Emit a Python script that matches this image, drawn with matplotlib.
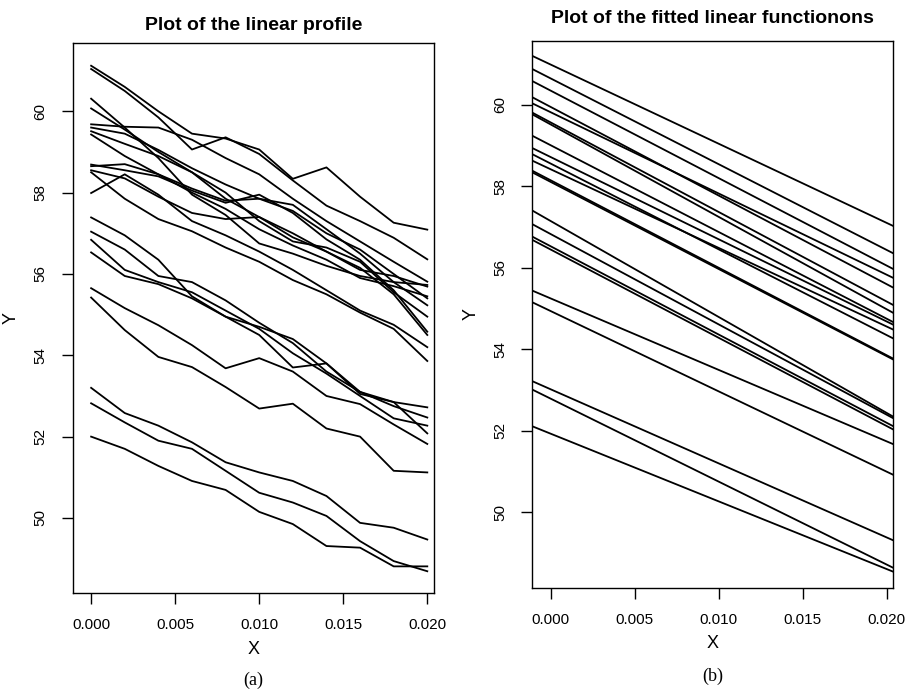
import numpy as np
import matplotlib
matplotlib.use("Agg")
import matplotlib.pyplot as plt

# X grid of the profiles
x_grid = [0.000, 0.002, 0.004, 0.006, 0.008, 0.010, 0.012, 0.014, 0.016, 0.018, 0.020]

profiles = [
    [61.12, 60.60, 60.00, 59.45, 59.33, 59.06, 58.34, 58.62, 57.90, 57.26, 57.09],
    [61.04, 60.50, 59.85, 59.06, 59.36, 58.95, 58.30, 57.68, 57.30, 56.89, 56.36],
    [60.31, 59.60, 58.85, 57.95, 57.45, 56.75, 56.50, 56.20, 55.95, 55.80, 55.73],
    [60.07, 59.55, 59.00, 58.50, 57.85, 57.40, 57.00, 56.55, 56.10, 55.95, 55.69],
    [59.68, 59.62, 59.60, 59.30, 58.85, 58.45, 57.85, 57.30, 56.80, 56.30, 55.81],
    [59.60, 59.45, 59.05, 58.60, 58.20, 57.85, 57.55, 57.00, 56.60, 56.00, 55.40],
    [59.51, 59.20, 58.90, 58.50, 58.00, 57.30, 56.80, 56.65, 56.30, 55.55, 54.95],
    [59.43, 58.90, 58.45, 58.10, 57.80, 57.85, 57.70, 57.10, 56.50, 55.80, 55.23],
    [58.69, 58.55, 58.40, 58.05, 57.75, 57.95, 57.50, 56.85, 56.35, 55.60, 54.58],
    [58.65, 58.70, 58.45, 58.00, 57.60, 57.10, 56.70, 56.35, 55.90, 55.70, 55.45],
    [58.55, 58.35, 57.90, 57.50, 57.35, 57.40, 56.90, 56.55, 56.15, 55.50, 54.50],
    [58.50, 57.85, 57.35, 57.05, 56.65, 56.30, 55.85, 55.50, 55.05, 54.65, 53.86],
    [57.99, 58.45, 57.95, 57.30, 56.95, 56.55, 56.10, 55.60, 55.10, 54.75, 54.20],
    [57.39, 56.95, 56.35, 55.45, 54.95, 54.70, 54.40, 53.80, 53.10, 52.85, 52.72],
    [57.04, 56.60, 55.95, 55.80, 55.35, 54.80, 54.30, 53.60, 53.10, 52.75, 52.47],
    [56.84, 56.10, 55.80, 55.55, 55.10, 54.65, 54.05, 53.55, 53.00, 52.45, 52.27],
    [56.53, 55.95, 55.75, 55.40, 54.95, 54.50, 53.70, 53.80, 53.05, 52.85, 52.08],
    [55.65, 55.16, 54.74, 54.25, 53.68, 53.93, 53.60, 53.00, 52.80, 52.30, 51.82],
    [55.42, 54.62, 53.96, 53.71, 53.22, 52.69, 52.81, 52.20, 52.00, 51.16, 51.12],
    [53.20, 52.58, 52.27, 51.86, 51.37, 51.12, 50.91, 50.54, 49.88, 49.76, 49.47],
    [52.82, 52.35, 51.90, 51.70, 51.16, 50.62, 50.38, 50.05, 49.43, 48.94, 48.69],
    [52.00, 51.70, 51.28, 50.91, 50.69, 50.15, 49.85, 49.31, 49.27, 48.81, 48.81],
]

# fitted linear functions: intercept and slope
fit_b0 = [60.99, 60.65, 60.35, 59.95, 59.82, 59.57, 59.52, 59.01, 58.72, 58.56, 58.42,
          58.15, 58.11, 57.15, 56.83, 56.53, 56.45, 55.25, 54.94, 53.02, 52.79, 51.93]
fit_b1 = [-194.4, -210.6, -214.8, -217.6, -199.5, -219.9, -226.9, -213.0, -201.9, -210.6, -193.1,
          -214.8, -213.9, -235.6, -221.8, -216.7, -216.7, -175.5, -197.2, -181.9, -203.7, -166.2]

xticks = [0.000, 0.005, 0.010, 0.015, 0.020]
yticks = [50, 52, 54, 56, 58, 60]

plt.rcParams['font.family'] = ['Liberation Sans', 'DejaVu Sans']

fig = plt.figure(figsize=(9.08, 6.93), dpi=100)
ax1 = fig.add_axes([0.080, 0.144, 0.398, 0.794])
ax2 = fig.add_axes([0.586, 0.152, 0.398, 0.789])

for p in profiles:
    ax1.plot(x_grid, p, color='black', lw=1.3)

for b0, b1 in zip(fit_b0, fit_b1):
    ax2.axline((0.0, b0), slope=b1, color='black', lw=1.3)

ax1.set_ylim(48.15, 61.68)
ax2.set_ylim(48.15, 61.57)

titles = ['Plot of the linear profile', 'Plot of the fitted linear functionons']
tags = ['(a)', '(b)']
title_pads = [9, 13]
tag_y = [-0.158, -0.163]
for ax, t, tag, tp, ty in zip([ax1, ax2], titles, tags, title_pads, tag_y):
    ax.set_xlim(-0.0011, 0.0204)
    ax.set_xticks(xticks)
    ax.set_xticklabels(['%.3f' % v for v in xticks])
    ax.set_yticks(yticks)
    ax.set_yticklabels([str(v) for v in yticks], rotation=90, va='center')
    ax.tick_params(direction='out', length=8, width=1, labelsize=11, pad=10)
    ax.set_xlabel('X', fontsize=13, labelpad=6)
    ax.set_ylabel('Y', fontsize=13, labelpad=10)
    ax.set_title(t, fontsize=14, fontweight='bold', pad=tp)
    for s in ax.spines.values():
        s.set_linewidth(1.0)
    ax.text(0.5, ty, tag, transform=ax.transAxes, ha='center', va='center',
            fontsize=13, family='Liberation Serif')

fig.savefig('out.png', dpi=100)
